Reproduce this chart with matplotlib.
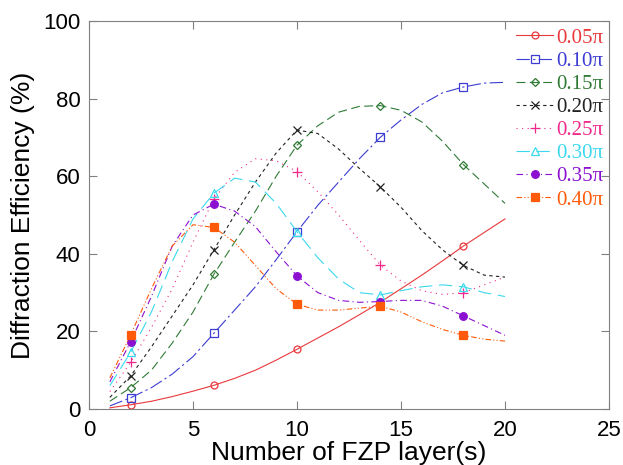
import matplotlib.pyplot as plt

layers = list(range(1, 21))

# diffraction efficiency (%), one value per layer count
eff_005 = [0.3, 1.1, 2.0, 3.2, 4.6, 6.1, 7.9, 10.0, 12.6, 15.4,
           18.3, 21.2, 24.3, 27.5, 31.0, 34.5, 38.2, 42.0, 45.5, 49.0]
eff_010 = [0.8, 2.9, 5.5, 9.0, 13.5, 19.5, 25.5, 31.5, 38.5, 45.7,
           52.5, 58.5, 64.5, 70.0, 74.5, 78.5, 81.5, 83.0, 84.0, 84.2]
eff_015 = [2.0, 5.5, 10.0, 17.0, 25.0, 34.7, 43.0, 51.0, 60.0, 68.0,
           73.0, 76.5, 78.0, 78.2, 77.0, 74.0, 69.0, 63.0, 58.0, 53.0]
eff_020 = [3.0, 8.5, 16.0, 24.0, 32.0, 41.0, 50.0, 58.5, 66.0, 71.9,
           71.0, 67.0, 62.0, 57.3, 52.0, 46.0, 41.0, 37.0, 34.5, 34.0]
eff_025 = [4.5, 12.0, 21.0, 31.0, 43.0, 54.1, 61.0, 64.5, 64.0, 61.2,
           56.0, 50.0, 43.5, 37.1, 33.0, 30.5, 29.5, 30.0, 32.0, 34.0]
eff_030 = [6.0, 14.6, 25.0, 38.0, 49.0, 55.6, 59.5, 58.5, 53.0, 45.7,
           39.0, 33.5, 30.0, 29.4, 30.5, 31.5, 32.0, 31.5, 30.0, 29.0]
eff_035 = [7.0, 17.3, 29.0, 42.0, 50.0, 52.8, 51.0, 47.0, 40.5, 34.3,
           30.0, 28.0, 27.5, 27.7, 28.0, 28.0, 26.5, 24.0, 21.5, 19.0]
eff_040 = [8.0, 19.1, 31.0, 42.0, 47.5, 46.8, 43.0, 37.0, 31.0, 27.0,
           25.5, 25.5, 26.0, 26.5, 25.0, 22.5, 20.5, 19.0, 18.0, 17.5]

labels = ['0.05\u03c0', '0.10\u03c0', '0.15\u03c0', '0.20\u03c0',
          '0.25\u03c0', '0.30\u03c0', '0.35\u03c0', '0.40\u03c0']
series = [eff_005, eff_010, eff_015, eff_020, eff_025, eff_030, eff_035, eff_040]
marked = [2, 6, 10, 14, 18]

styles = [
    dict(color='#e8393c', ls='-', marker='o', mfc='none', ms=5),
    dict(color='#3c3cd2', ls=(0, (12, 3, 2, 3)), marker='s', mfc='none', ms=6),
    dict(color='#2f7a35', ls=(0, (8, 4)), marker='D', mfc='none', ms=4),
    dict(color='#222222', ls=(0, (3, 3)), marker='x', mfc='none', ms=6),
    dict(color='#f0288c', ls=(0, (1, 4)), marker='+', mfc='none', ms=7),
    dict(color='#3ad8ee', ls=(0, (12, 6)), marker='^', mfc='none', ms=6),
    dict(color='#8c10d0', ls=(0, (6, 3, 1, 3)), marker='o', mfc='#8c10d0', ms=5.5),
    dict(color='#ff5a0a', ls=(0, (5, 2, 1, 2, 1, 2)), marker='s', mfc='#ff5a0a', ms=6),
]

fig = plt.figure(figsize=(6.23, 4.65), dpi=100)
ax = fig.add_axes([0.1429, 0.1204, 0.8346, 0.8344])

for y, lab, st in zip(series, labels, styles):
    idx = [layers.index(m) for m in marked]
    ax.plot(layers, y, color=st['color'], ls=st['ls'], lw=0.8,
            marker=st['marker'], mfc=st['mfc'], mec=st['color'],
            ms=st['ms'], mew=0.9, markevery=idx, label=lab)

ax.set_xlim(0, 25)
ax.set_ylim(0, 100)
ax.set_xticks([0, 5, 10, 15, 20, 25])
ax.set_yticks([0, 20, 40, 60, 80, 100])
ax.tick_params(direction='in', top=True, right=True, length=6,
               labelsize=16, color='#808080')
ax.tick_params(axis='x', pad=8)
ax.tick_params(axis='y', pad=6)
for t in ax.get_xticklabels() + ax.get_yticklabels():
    t.set_family('Liberation Sans')
for s in ax.spines.values():
    s.set_color('#808080')

ax.set_xlabel('Number of FZP layer(s)', fontsize=19, family='Liberation Sans', labelpad=0)
ax.set_ylabel('Diffraction Efficiency (%)', fontsize=19, family='Liberation Sans', labelpad=6)

leg = ax.legend(loc='upper right', bbox_to_anchor=(1.0, 0.995), frameon=False,
                handlelength=1.8, handletextpad=0.15, labelspacing=0.17,
                borderpad=0.2, borderaxespad=0.05,
                prop={'family': 'Liberation Serif', 'size': 15})
for txt, st in zip(leg.get_texts(), styles):
    txt.set_color(st['color'])

fig.savefig('out.png', dpi=100)
